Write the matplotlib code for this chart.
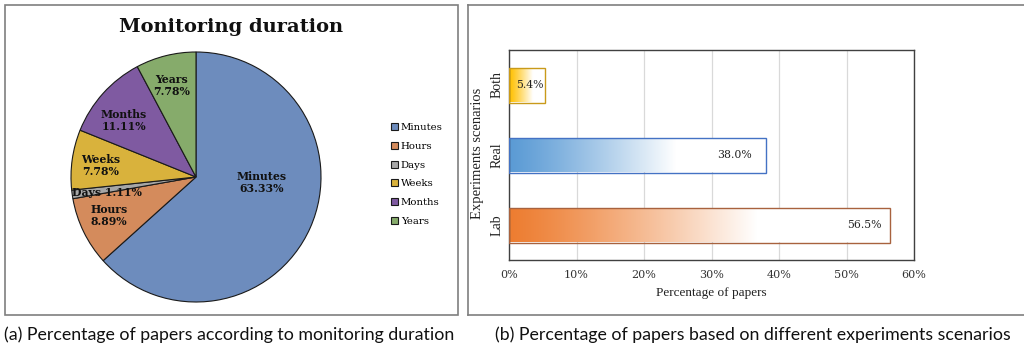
import numpy as np
import matplotlib
matplotlib.use("Agg")
import matplotlib.pyplot as plt
from matplotlib.patches import Rectangle
from matplotlib.lines import Line2D
from matplotlib.colors import to_rgb

# ---------------- data ----------------
durations = ["Minutes", "Hours", "Days", "Weeks", "Months", "Years"]
duration_pct = [63.33, 8.89, 1.11, 7.78, 11.11, 7.78]
duration_colors = ["#6d8cbd", "#d48b5c", "#a6a6a6", "#d9b23c", "#7f5aa1", "#86ab6b"]

scenarios = ["Lab", "Real", "Both"]
scenario_pct = [56.5, 38.0, 5.4]
scenario_colors = ["#ed7d31", "#5b9bd5", "#ffc000"]
scenario_edges = ["#a8623e", "#4472c4", "#c99a1a"]
x_ticks = [0, 10, 20, 30, 40, 50, 60]

SERIF = ["DejaVu Serif"]
TIMES = ["Liberation Serif", "DejaVu Serif"]
SANS = ["Lato", "DejaVu Sans"]

W, H = 1024, 349
fig = plt.figure(figsize=(W / 100, H / 100), dpi=100)

def fx(px):
    return px / W

def fy(py):
    return 1 - py / H

# panel frames
fig.patches.append(Rectangle((fx(5), fy(315)), fx(453), 310 / H, transform=fig.transFigure,
                             fill=False, edgecolor="#7f7f7f", lw=1.2))
for xs, ys in [([468, 1030], [5, 5]), ([468, 1030], [315, 315]), ([468, 468], [5, 315])]:
    fig.lines.append(Line2D([fx(v) for v in xs], [fy(v) for v in ys], transform=fig.transFigure,
                            color="#7f7f7f", lw=1.2))

# ---------------- pie ----------------
cx, cy, r = 196, 177, 125
axp = fig.add_axes([fx(cx - r), fy(cy + r), fx(2 * r), 2 * r / H])
wedges, _ = axp.pie(duration_pct, colors=duration_colors, startangle=90, counterclock=False,
                    wedgeprops=dict(edgecolor="#1a1a1a", linewidth=0.8))
axp.set_xlim(-1, 1)
axp.set_ylim(-1, 1)
axp.set_aspect("auto")
axp.axis("off")

label_r = [0.53, 0.76, 0.72, 0.77, 0.73, 0.76]
angle_shift = [19, -2, 2, 1, 4, 1]
for w, name, pct, rr, sh in zip(wedges, durations, duration_pct, label_r, angle_shift):
    mid = np.deg2rad((w.theta1 + w.theta2) / 2 + sh)
    if name == "Days":
        txt = f"{name} {pct:.2f}%"
    else:
        txt = f"{name}\n{pct:.2f}%"
    axp.text(rr * np.cos(mid), rr * np.sin(mid), txt, ha="center", va="center",
             fontsize=7.8, fontweight="bold", family=SERIF, color="#111111", linespacing=1.1)

fig.text(fx(231), fy(27), "Monitoring duration", ha="center", va="center",
         fontsize=14, fontweight="bold", family=SERIF, color="#111111")

fig.legend(wedges, durations, loc="upper left", bbox_to_anchor=(fx(386), fy(118)),
           frameon=False, prop=dict(family=SERIF, size=7.3), handlelength=0.7,
           handleheight=0.7, handletextpad=0.25, labelspacing=0.95, borderpad=0)

# ---------------- bars ----------------
axb = fig.add_axes([fx(509), fy(260), fx(405), 210 / H])
ypos = np.arange(len(scenarios))
bars = axb.barh(ypos, scenario_pct, height=0.5, facecolor="none",
                edgecolor=scenario_edges, linewidth=1.0, zorder=3)
axb.set_xlim(0, 60)
axb.set_ylim(-0.5, len(scenarios) - 0.5)
axb.set_axisbelow(True)
axb.grid(axis="x", color="#d9d9d9", lw=0.9)

label_pad = [-6, -10, -1]
for b, col, pad in zip(bars, scenario_colors, label_pad):
    c = np.array(to_rgb(col))
    t = np.clip(np.linspace(0, 1, 256) / 0.65, 0, 1) ** 1.2
    grad = (c[None, :] * (1 - t[:, None]) + t[:, None] * 1.0)[None, :, :]
    x0, y0, bw, bh = b.get_x(), b.get_y(), b.get_width(), b.get_height()
    im = axb.imshow(grad, extent=[x0, x0 + bw, y0, y0 + bh], aspect="auto",
                    origin="lower", zorder=2, interpolation="bilinear")
    im.set_clip_path(b)
    axb.annotate(f"{b.get_width():.1f}%", xy=(x0 + bw, y0 + bh / 2), xytext=(pad, 0),
                 textcoords="offset points", ha="right", va="center",
                 fontsize=7.8, family=SERIF, color="#222222", zorder=4)

axb.set_xlim(0, 60)
axb.set_ylim(-0.5, len(scenarios) - 0.5)
axb.set_xticks(x_ticks)
axb.set_xticklabels([f"{v}%" for v in x_ticks], family=SERIF, fontsize=8.0, color="#333333")
axb.set_yticks(ypos)
axb.set_yticklabels(scenarios, rotation=90, va="center", family=TIMES, fontsize=10, color="#222222")
axb.tick_params(length=0, pad=7)
axb.tick_params(axis="y", pad=4)
for s in axb.spines.values():
    s.set_color("#404040")
    s.set_linewidth(1.0)
axb.set_xlabel("Percentage of papers", family=TIMES, fontsize=9.5, color="#222222", labelpad=5)
fig.text(fx(478), fy(153), "Experiments scenarios", rotation=90, ha="center", va="center",
         family=TIMES, fontsize=10.5, color="#222222")

# ---------------- captions ----------------
fig.text(fx(229), fy(335), "(a) Percentage of papers according to monitoring duration",
         ha="center", va="center", family=SANS, fontsize=12.8, color="#111111")
fig.text(fx(753), fy(335), "(b) Percentage of papers based on different experiments scenarios",
         ha="center", va="center", family=SANS, fontsize=12.8, color="#111111")

fig.savefig("out.png", dpi=100)
